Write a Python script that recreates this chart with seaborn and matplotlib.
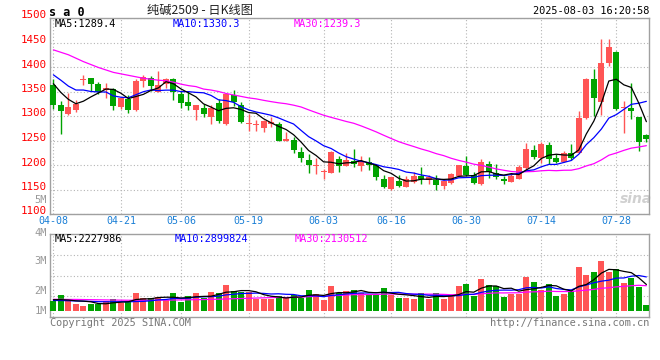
import numpy as np
import pandas as pd
import matplotlib
matplotlib.use("Agg")
import matplotlib.pyplot as plt
import matplotlib.transforms as mtransforms
import seaborn as sns

# ---------------- data ----------------
dates = (["04-%02d" % d for d in [8, 9, 10, 11, 14, 15, 16, 17, 18, 21, 22, 23, 24, 25, 28, 29, 30]]
         + ["05-%02d" % d for d in [6, 7, 8, 9, 12, 13, 14, 15, 16, 19, 20, 21, 22, 23, 26, 27, 28, 29, 30]]
         + ["06-%02d" % d for d in [3, 4, 5, 6, 9, 10, 11, 12, 13, 16, 17, 18, 19, 20, 23, 24, 25, 26, 27, 30]]
         + ["07-%02d" % d for d in [1, 2, 3, 4, 7, 8, 9, 10, 11, 14, 15, 16, 17, 18, 21, 22, 23, 24, 25, 28, 29, 30, 31]]
         + ["08-01"])

opens = [1363, 1322, 1305, 1313, 1374, 1378, 1365, 1353, 1355, 1318,
         1335, 1312, 1372, 1378, 1350, 1366, 1375, 1345, 1328, 1313,
         1317, 1298, 1327, 1283, 1342, 1323, 1283, 1281, 1275, 1283,
         1284, 1249, 1252, 1227, 1211, 1197, 1186, 1184, 1213, 1198,
         1209, 1197, 1206, 1199, 1172, 1151, 1168, 1156, 1166, 1177,
         1170, 1170, 1158, 1163, 1178, 1197, 1180, 1162, 1202, 1183,
         1171, 1166, 1172, 1194, 1230, 1215, 1240, 1215, 1207, 1225,
         1225, 1296, 1376, 1329, 1409, 1431, 1316, 1317, 1297, 1262]
highs = [1375, 1330, 1346, 1333, 1383, 1378, 1370, 1367, 1358, 1338,
         1342, 1375, 1383, 1382, 1392, 1377, 1377, 1351, 1352, 1323,
         1325, 1323, 1334, 1347, 1353, 1328, 1304, 1292, 1292, 1297,
         1287, 1268, 1258, 1236, 1223, 1215, 1192, 1228, 1219, 1225,
         1233, 1219, 1216, 1200, 1180, 1176, 1180, 1178, 1185, 1195,
         1180, 1179, 1169, 1183, 1200, 1219, 1185, 1212, 1209, 1202,
         1178, 1181, 1199, 1244, 1240, 1247, 1247, 1222, 1228, 1242,
         1310, 1377, 1396, 1457, 1457, 1433, 1330, 1368, 1298, 1264]
lows = [1314, 1264, 1302, 1309, 1364, 1352, 1344, 1336, 1312, 1315,
        1307, 1311, 1360, 1352, 1349, 1358, 1333, 1317, 1312, 1292,
        1298, 1284, 1286, 1281, 1320, 1286, 1270, 1269, 1268, 1277,
        1250, 1248, 1224, 1206, 1183, 1182, 1171, 1184, 1185, 1197,
        1196, 1188, 1190, 1170, 1154, 1150, 1156, 1155, 1163, 1162,
        1161, 1148, 1151, 1162, 1177, 1178, 1161, 1160, 1173, 1171,
        1161, 1165, 1171, 1191, 1212, 1204, 1202, 1204, 1206, 1210,
        1224, 1293, 1300, 1302, 1402, 1313, 1266, 1293, 1228, 1246]
closes = [1322, 1310, 1318, 1325, 1376, 1366, 1350, 1358, 1321, 1337,
          1312, 1371, 1380, 1361, 1363, 1375, 1350, 1327, 1321, 1322,
          1304, 1317, 1290, 1345, 1328, 1287, 1285, 1283, 1289, 1287,
          1250, 1253, 1230, 1214, 1201, 1199, 1188, 1226, 1198, 1211,
          1202, 1208, 1201, 1175, 1156, 1175, 1158, 1172, 1178, 1172,
          1175, 1160, 1168, 1182, 1199, 1180, 1163, 1206, 1185, 1175,
          1168, 1178, 1196, 1233, 1217, 1242, 1212, 1206, 1225, 1215,
          1296, 1375, 1337, 1408, 1441, 1314, 1318, 1310, 1247, 1253]
# volume in millions of lots
volumes = [0.86, 1.35, 0.92, 0.58, 0.41, 0.58, 0.58, 0.84, 1.01, 0.66,
           0.78, 1.53, 1.09, 1.09, 1.18, 0.92, 1.53, 0.75, 1.27, 1.53,
           1.09, 1.61, 1.53, 2.22, 1.70, 1.61, 1.61, 1.01, 1.01, 1.01,
           1.27, 1.18, 1.35, 1.09, 1.78, 1.44, 0.92, 2.13, 1.55, 1.70,
           1.78, 1.55, 1.35, 1.35, 1.96, 1.35, 1.09, 1.09, 1.01, 1.53,
           1.01, 1.53, 1.01, 1.27, 2.13, 2.30, 1.27, 2.73, 2.22, 2.13,
           1.18, 1.44, 1.44, 2.90, 2.47, 1.78, 2.30, 1.27, 1.44, 1.72,
           3.77, 3.08, 3.34, 4.28, 3.34, 3.59, 2.39, 2.79, 2.04, 0.49]

# moving-average values at the start of the window (history before 04-08)
ma5_head = [1366, 1348, 1334, 1325]
ma10_head = [1384, 1373, 1361, 1353, 1353, 1350, 1349, 1349, 1341]
ma30_head = [1435, 1430, 1425, 1418, 1411, 1405, 1399, 1394, 1389, 1386,
             1383, 1380, 1377, 1375, 1373, 1372, 1369, 1365, 1362, 1360,
             1355, 1353, 1350, 1346, 1343, 1340, 1337, 1335, 1332]
vma5_head = [0.95, 0.95, 0.92, 0.85]
vma10_head = [0.88, 0.88, 0.86, 0.84, 0.82, 0.80, 0.78, 0.77, 0.77]
vma30_head = [0.98, 0.98, 0.97, 0.97, 0.96, 0.95, 0.94, 0.93, 0.92, 0.91,
              0.90, 0.90, 0.90, 0.90, 0.91, 0.91, 0.92, 0.93, 0.94, 0.95,
              0.96, 0.98, 0.99, 1.01, 1.03, 1.05, 1.07, 1.09, 1.11]

tick_dates = ["04-08", "04-21", "05-06", "05-19", "06-03", "06-16", "06-30", "07-14", "07-28"]
price_ticks = [1100, 1150, 1200, 1250, 1300, 1350, 1400, 1450, 1500]
vol_axis_labels = ["5M", "4M", "3M", "2M", "1M"]

title_text = "纯碱2509 - 日K线图"
symbol_text = "s a 0"
stamp_text = "2025-08-03 16:20:58"
ma_price_labels = ["MA5:1289.4", "MA10:1330.3", "MA30:1239.3"]
ma_vol_labels = ["MA5:2227986", "MA10:2899824", "MA30:2130512"]
copyright_text = "Copyright 2025 SINA.COM"
url_text = "http://finance.sina.com.cn"

# ---------------- style ----------------
sns.set_theme(style="white")
plt.rcParams["font.family"] = ["DejaVu Sans Mono", "Noto Sans CJK SC"]

RED = "#ff5555"
GREEN = "#00a300"
GRIDC = "#b4b4b4"
FRAMEC = "#a0a0a0"
DATEC = "#1a7fd6"
MONO = "DejaVu Sans Mono"

W, H = 660, 360
fig = plt.figure(figsize=(6.6, 3.6), dpi=100)
fig.patch.set_facecolor("white")


def fx(px):
    return px / W


def fy(py):
    return 1 - py / H


ax = fig.add_axes([fx(50), fy(214), 599 / W, 196 / H])
axv = fig.add_axes([fx(50), fy(317), 599 / W, 83 / H])

n = len(closes)
x = np.arange(n)
o = np.array(opens, float)
c = np.array(closes, float)
hi = np.array(highs, float)
lo = np.array(lows, float)
up = c >= o
cols = np.where(up, RED, GREEN)


def moving(values, head, w):
    s = pd.Series(values, dtype=float).rolling(w).mean().to_numpy()
    s[:len(head)] = head
    return s


ma5 = moving(closes, ma5_head, 5)
ma10 = moving(closes, ma10_head, 10)
ma30 = moving(closes, ma30_head, 30)
vma5 = moving(volumes, vma5_head, 5)
vma10 = moving(volumes, vma10_head, 10)
vma30 = moving(volumes, vma30_head, 30)

tick_idx = [dates.index(d) for d in tick_dates]
xmin, xmax = -0.45, 79.35

# ---------------- panels ----------------
for a in (ax, axv):
    a.set_xlim(xmin, xmax)
    a.set_facecolor("white")
    for s in a.spines.values():
        s.set_color(FRAMEC)
        s.set_linewidth(1.0)
    a.set_xticks(tick_idx)
    a.set_xticklabels([])
    a.tick_params(length=0, labelleft=False, labelbottom=False)
    a.grid(True, color=GRIDC, linestyle=(0, (1, 2)), linewidth=0.8)
    a.set_axisbelow(True)

ax.set_ylim(1100, 1500)
ax.set_yticks(price_ticks)

ax.vlines(x, lo, hi, colors=cols, linewidth=1.0, zorder=2)
body_bottom = np.minimum(o, c)
body_h = np.maximum(np.abs(c - o), 2.0)
ax.bar(x, body_h, bottom=body_bottom, width=0.8, color=cols, linewidth=0, zorder=3)

sns.lineplot(x=x, y=ma30, ax=ax, color="#ff00ff", linewidth=0.9, zorder=4)
sns.lineplot(x=x, y=ma10, ax=ax, color="#0000ff", linewidth=0.9, zorder=4)
sns.lineplot(x=x, y=ma5, ax=ax, color="black", linewidth=0.9, zorder=5)
ax.set_xlabel("")
ax.set_ylabel("")

# price labels (red, left of frame)
trans_y = mtransforms.blended_transform_factory(ax.transAxes, ax.transData)
trans_y = mtransforms.offset_copy(trans_y, fig=fig, x=-3, y=2.5, units="dots")
for v in price_ticks:
    ax.text(0, v, str(v), transform=trans_y, ha="right", va="center",
            color="#ff0000", fontsize=7.8, family=MONO)

# date labels
trans_x = mtransforms.blended_transform_factory(ax.transData, ax.transAxes)
trans_x = mtransforms.offset_copy(trans_x, fig=fig, x=0, y=-2.5, units="dots")
for i, d in zip(tick_idx, tick_dates):
    ax.text(i, 0, d, transform=trans_x, ha="center", va="top",
            color=DATEC, fontsize=7.2, family=MONO)

# MA legend text
ax.text(fx(55), fy(24), ma_price_labels[0], transform=fig.transFigure, color="black",
        fontsize=7.4, family=MONO, va="center", ha="left")
ax.text(fx(173), fy(24), ma_price_labels[1], transform=fig.transFigure, color="#0000ff",
        fontsize=7.4, family=MONO, va="center", ha="left")
ax.text(fx(294), fy(24), ma_price_labels[2], transform=fig.transFigure, color="#ff00ff",
        fontsize=7.4, family=MONO, va="center", ha="left")

# watermark
ax.text(fx(636), fy(199), "sina", transform=fig.transFigure, color="#d0d0d0",
        fontsize=10, fontweight="bold", style="italic", family="DejaVu Sans",
        ha="center", va="center", zorder=1)

# ---------------- volume panel ----------------
base_y, px_per_m = 310.7, 11.6
vlo = -(317 - base_y) / px_per_m
vhi = (base_y - 234) / px_per_m
axv.set_ylim(vlo, vhi)
axv.set_yticks([vlo + q * (vhi - vlo) / 4 for q in (1, 2, 3)])
axv.bar(x, volumes, width=0.8, color=cols, linewidth=0, zorder=3)
sns.lineplot(x=x, y=vma30, ax=axv, color="#ff00ff", linewidth=0.9, zorder=4)
sns.lineplot(x=x, y=vma10, ax=axv, color="#0000ff", linewidth=0.9, zorder=4)
sns.lineplot(x=x, y=vma5, ax=axv, color="black", linewidth=0.9, zorder=5)
axv.set_xlabel("")
axv.set_ylabel("")

fig.text(fx(55), fy(238.5), ma_vol_labels[0], color="black", fontsize=7.4, family=MONO, va="center")
fig.text(fx(175), fy(238.5), ma_vol_labels[1], color="#0000ff", fontsize=7.4, family=MONO, va="center")
fig.text(fx(295), fy(238.5), ma_vol_labels[2], color="#ff00ff", fontsize=7.4, family=MONO, va="center")

for lab, py in zip(vol_axis_labels, [200, 232.5, 260.5, 290.5, 310.5]):
    fig.text(fx(47), fy(py), lab, color="#999999", fontsize=7.5, family=MONO,
             ha="right", va="center")

# ---------------- header / footer ----------------
fig.text(fx(49), fy(12.5), symbol_text, color="black", fontsize=8.5, family=MONO,
         fontweight="bold", ha="left", va="center")
fig.text(fx(200), fy(10), title_text, color="#222222", fontsize=8.8,
         family=["Noto Sans CJK SC", "DejaVu Sans"], ha="center", va="center")
fig.text(fx(649), fy(11.5), stamp_text, color="black", fontsize=7.4, family=MONO,
         ha="right", va="center")
fig.text(fx(50), fy(323), copyright_text, color="#777777", fontsize=7.4, family=MONO,
         ha="left", va="center")
fig.text(fx(649), fy(323), url_text, color="#777777", fontsize=7.4, family=MONO,
         ha="right", va="center")

fig.savefig("out.png", dpi=100, facecolor="white")
